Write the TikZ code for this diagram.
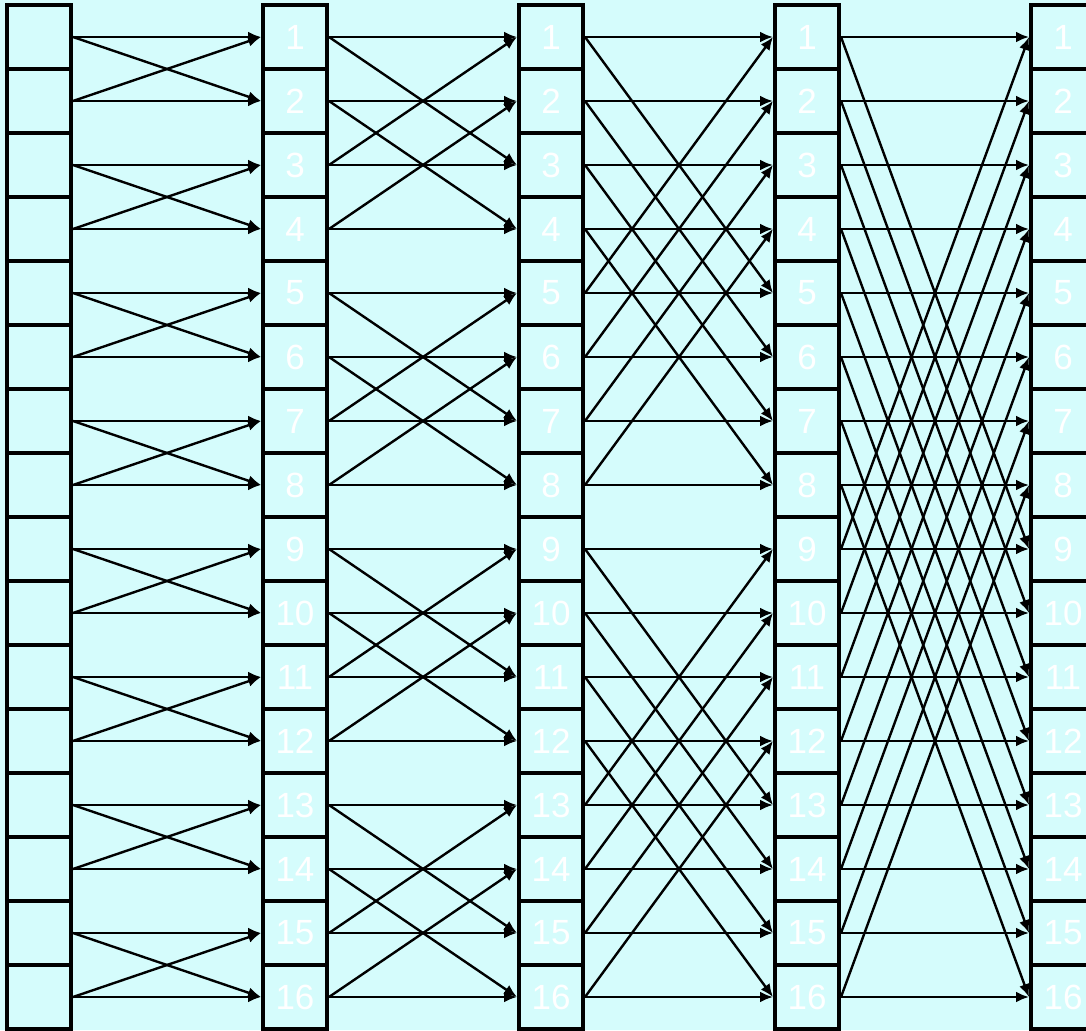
\documentclass[tikz,border=0pt]{standalone}
\usepackage{fontspec}
\setmainfont{Liberation Sans}
\usetikzlibrary{arrows.meta}
\definecolor{paleaqua}{RGB}{213,252,252}

\begin{document}
\begin{tikzpicture}[x=1pt,y=-1pt,>={Latex[length=13pt,width=11pt]}]
\tikzstyle{cell}=[draw=black,line width=4pt,fill=paleaqua,minimum width=64pt,minimum height=64pt,inner sep=0pt,text=white,font=\fontsize{35}{35}\selectfont]
\tikzstyle{link}=[->,line width=2.4pt,black]
\fill[paleaqua] (0,0) rectangle (1086,1030);
\useasboundingbox (0,0) rectangle (1086,1030);
% five columns of sixteen cells
\foreach \c in {1,...,5}{
  \foreach \r in {1,...,16}{
    \pgfmathsetmacro{\cx}{39+256*(\c-1)}
    \pgfmathsetmacro{\cy}{37+64*(\r-1)}
    \node[cell] (c\c-\r) at (\cx,\cy) {\ifnum\c>1 \r\fi};
  }
}
% butterfly stages
\foreach \s in {1,...,4}{
  \pgfmathtruncatemacro{\d}{2^(\s-1)}
  \pgfmathtruncatemacro{\n}{\s+1}
  \foreach \r in {1,...,16}{
    \pgfmathtruncatemacro{\p}{mod(floor((\r-1)/\d),2)==0 ? \r+\d : \r-\d}
    \draw[link] (c\s-\r.east) -- (c\n-\r.west);
    \draw[link] (c\s-\r.east) -- (c\n-\p.west);
  }
}
\end{tikzpicture}
\end{document}
